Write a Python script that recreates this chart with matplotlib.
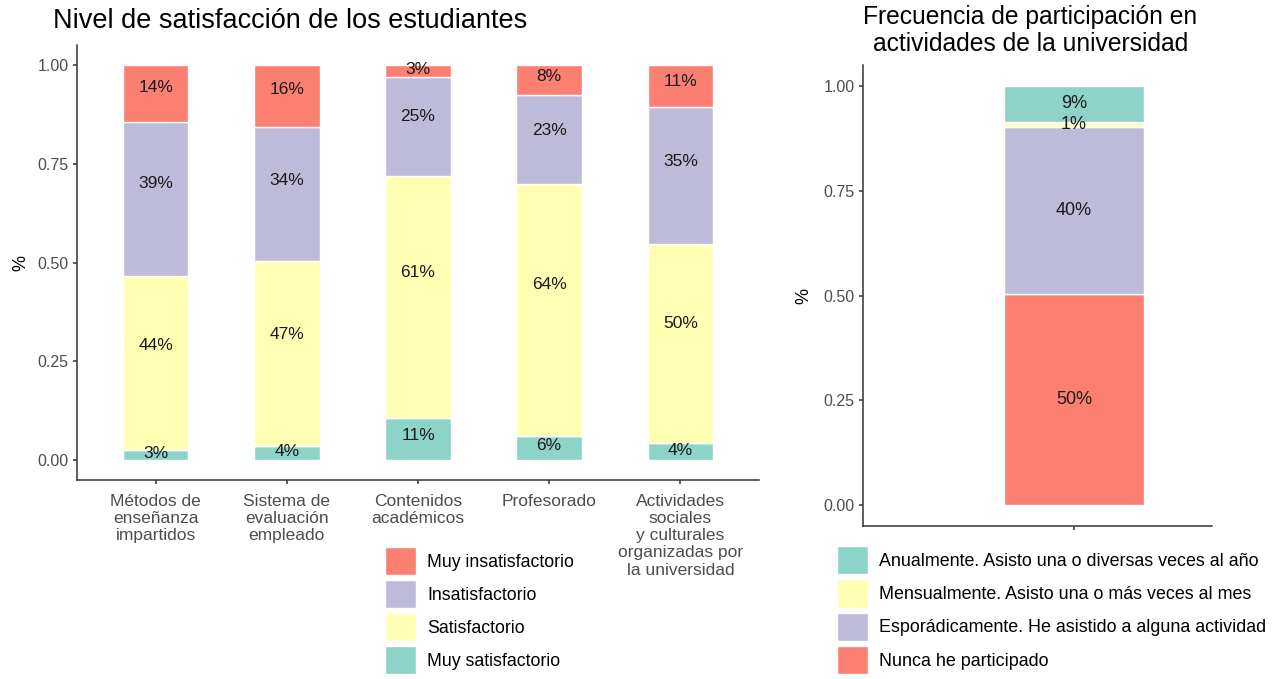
import numpy as np
import matplotlib
matplotlib.use("Agg")
import matplotlib.pyplot as plt
from matplotlib.patches import Patch

plt.rcParams['font.family'] = ['Liberation Sans', 'DejaVu Sans']

# datos: nivel de satisfaccion
categorias = ["Métodos de\nenseñanza\nimpartidos", "Sistema de\nevaluación\nempleado",
              "Contenidos\nacadémicos", "Profesorado",
              "Actividades\nsociales\ny culturales\norganizadas por\nla universidad"]
muy_satisf = [0.027, 0.036, 0.106, 0.062, 0.043]
satisf = [0.439, 0.469, 0.613, 0.636, 0.503]
insatisf = [0.390, 0.338, 0.251, 0.226, 0.348]
muy_insatisf = [0.144, 0.157, 0.030, 0.076, 0.106]
niveles = ["Muy insatisfactorio", "Insatisfactorio", "Satisfactorio", "Muy satisfactorio"]

# datos: frecuencia de participacion
frecuencias = ["Anualmente. Asisto una o diversas veces al año",
               "Mensualmente. Asisto una o más veces al mes",
               "Esporádicamente. He asistido a alguna actividad",
               "Nunca he participado"]
anual = [0.086]
mensual = [0.012]
esporadico = [0.399]
nunca = [0.503]

c_teal, c_yel, c_lav, c_red = "#8DD3C7", "#FFFFB3", "#BEBADA", "#FB8072"
grey = "#4D4D4D"

fig = plt.figure(figsize=(12.83, 6.79), dpi=100)


def estilo(ax):
    for s in ["top", "right"]:
        ax.spines[s].set_visible(False)
    for s in ["left", "bottom"]:
        ax.spines[s].set_color("#333333")
        ax.spines[s].set_linewidth(1.1)
    ax.tick_params(axis="both", colors="#333333", labelcolor=grey, length=3, width=1.1)
    ax.tick_params(axis="y", labelsize=11.5, pad=3)
    ax.set_ylim(-0.05, 1.05)
    ax.set_yticks([0, 0.25, 0.5, 0.75, 1.0])
    ax.set_yticklabels(["0.00", "0.25", "0.50", "0.75", "1.00"])


# panel izquierdo
ax1 = fig.add_axes([0.060, 0.2931, 0.5316, 0.6406])
x = np.arange(len(categorias))
w = 0.5
bottom = np.zeros(len(categorias))
for vals, col in [(muy_satisf, c_teal), (satisf, c_yel), (insatisf, c_lav), (muy_insatisf, c_red)]:
    vals = np.array(vals)
    ax1.bar(x, vals, w, bottom=bottom, color=col, edgecolor="white", linewidth=1)
    for xi, b0, v in zip(x, bottom, vals):
        ax1.text(xi, b0 + 0.6 * v, f"{v * 100:.0f}%", ha="center", va="center",
                 fontsize=12.5, color="#1a1a1a")
    bottom += vals
estilo(ax1)
ax1.set_xlim(-0.6, len(categorias) - 0.4)
ax1.set_xticks(x)
ax1.set_xticklabels(categorias, fontsize=12.5, linespacing=1.18, va="top")
ax1.tick_params(axis="x", pad=7)
ax1.set_ylabel("%", fontsize=13, labelpad=6)
ax1.set_title("Nivel de satisfacción de los estudiantes", fontsize=19.5, loc="left",
              x=-0.035, pad=12)

fig.legend(handles=[Patch(facecolor=c, edgecolor="white") for c in [c_red, c_lav, c_yel, c_teal]],
           labels=niveles, loc="upper left", bbox_to_anchor=(0.300, 0.1944), frameon=False,
           fontsize=12.8, handlelength=1.75, handleheight=2.05, labelspacing=0.28,
           handletextpad=0.62, borderpad=0, borderaxespad=0)

# panel derecho
ax2 = fig.add_axes([0.6726, 0.2253, 0.2721, 0.6790])
bottom = np.zeros(1)
for vals, col in [(nunca, c_red), (esporadico, c_lav), (mensual, c_yel), (anual, c_teal)]:
    b = ax2.bar([0], vals, w, bottom=bottom, color=col, edgecolor="white", linewidth=1)
    ax2.bar_label(b, labels=[f"{v * 100:.0f}%" for v in vals], label_type="center",
                  fontsize=13, color="#1a1a1a")
    bottom += np.array(vals)
estilo(ax2)
ax2.set_xlim(-0.754, 0.493)
ax2.set_xticks([0])
ax2.set_xticklabels([""])
ax2.set_ylabel("%", fontsize=13, labelpad=8)
fig.text(0.803, 0.9545, "Frecuencia de participación en\nactividades de la universidad",
         ha="center", va="center", fontsize=17.7, linespacing=1.15)

fig.legend(handles=[Patch(facecolor=c, edgecolor="white") for c in [c_teal, c_yel, c_lav, c_red]],
           labels=frecuencias, loc="upper left", bbox_to_anchor=(0.6524, 0.1959), frameon=False,
           fontsize=12.9, handlelength=1.75, handleheight=2.05, labelspacing=0.28,
           handletextpad=0.62, borderpad=0, borderaxespad=0)

fig.savefig("out.png", dpi=100)
